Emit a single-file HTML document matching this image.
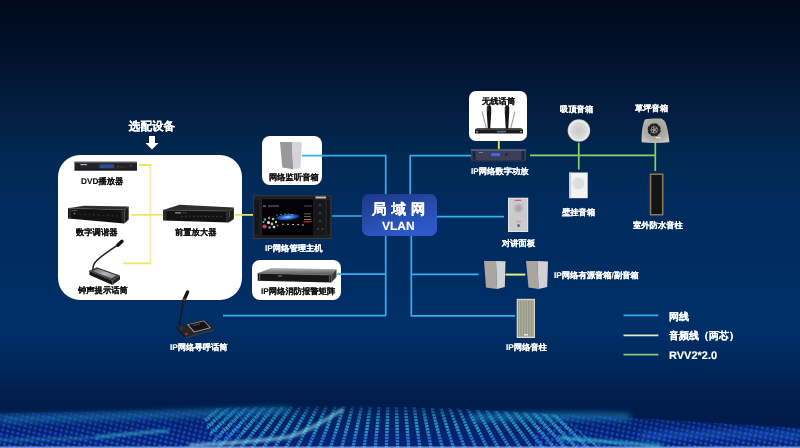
<!DOCTYPE html>
<html><head><meta charset="utf-8">
<style>
*{margin:0;padding:0;box-sizing:border-box}
html,body{width:800px;height:448px;overflow:hidden}
body{position:relative;font-family:"Liberation Sans",sans-serif;
background:linear-gradient(180deg,#000a1c 0px,#00112a 50px,#041b3d 100px,#012850 150px,#002b5c 200px,#002d62 270px,#012f68 330px,#002658 370px,#011d4c 400px,#011a48 448px);}
.abs{position:absolute}
.wbox{position:absolute;background:#fff}
.lbl{position:absolute;font-weight:bold;-webkit-text-stroke:0.12px currentColor;white-space:nowrap;font-size:8.3px;line-height:10px;text-rendering:geometricPrecision;color:#fff}
.dk{color:#111;-webkit-text-stroke-width:0.1px}
svg{position:absolute;left:0;top:0}
</style></head>
<body>
<!-- bottom particle wave -->
<svg class="abs" style="left:0;top:400px" width="800" height="48" viewBox="0 400 800 48">
 <defs>
  <pattern id="dotA" width="5.2" height="4.6" patternUnits="userSpaceOnUse" patternTransform="rotate(14)"><circle cx="2.6" cy="2.3" r="1.6" fill="#1f55e0"/></pattern>
  <pattern id="dotC" width="5.2" height="4.6" patternUnits="userSpaceOnUse" patternTransform="rotate(12)"><circle cx="2.6" cy="2.3" r="1.6" fill="#1f55e0"/></pattern>
  <linearGradient id="wg" x1="0" y1="400" x2="0" y2="448" gradientUnits="userSpaceOnUse"><stop offset="0.1" stop-color="#fff" stop-opacity="0"/><stop offset="0.35" stop-color="#fff" stop-opacity="0.45"/><stop offset="0.7" stop-color="#fff" stop-opacity="0.7"/><stop offset="1" stop-color="#fff" stop-opacity="0.9"/></linearGradient>
  <mask id="wm" maskUnits="userSpaceOnUse" x="0" y="400" width="800" height="48"><rect x="0" y="400" width="800" height="48" fill="url(#wg)"/></mask>
  <linearGradient id="baseG" x1="0" y1="400" x2="0" y2="448" gradientUnits="userSpaceOnUse"><stop offset="0.1" stop-color="#06257a" stop-opacity="0"/><stop offset="0.35" stop-color="#06257a" stop-opacity="0.55"/><stop offset="1" stop-color="#072880" stop-opacity="0.8"/></linearGradient>
  <linearGradient id="colGrad" x1="0" y1="404" x2="0" y2="448" gradientUnits="userSpaceOnUse"><stop offset="0" stop-color="#1a6ab0" stop-opacity="0.25"/><stop offset="0.25" stop-color="#2aa8c8" stop-opacity="0.65"/><stop offset="0.55" stop-color="#34b8d0" stop-opacity="0.8"/><stop offset="0.8" stop-color="#2a80d8" stop-opacity="0.8"/><stop offset="1" stop-color="#3a9ae0" stop-opacity="0.85"/></linearGradient>
  <filter id="bl05" x="-20%" y="-5%" width="140%" height="110%"><feGaussianBlur stdDeviation="0.7"/></filter>
  <clipPath id="midclip"><path d="M200 408C300 406 400 405 480 410C520 412 550 414 560 415L600 448H215Z"/></clipPath>
  <filter id="bl" x="-10%" y="-50%" width="120%" height="200%"><feGaussianBlur stdDeviation="1.6"/></filter>
  <filter id="bl2" x="-10%" y="-100%" width="120%" height="300%"><feGaussianBlur stdDeviation="3"/></filter>
 </defs>
 <path d="M0 413C80 412 200 409 300 406.5C400 405 480 410 560 414C650 418 720 424 800 428V448H0Z" fill="url(#baseG)"/>
 <g mask="url(#wm)">
  <path d="M0 413C80 412 200 409 290 406.5L215 448H0Z" fill="url(#dotA)"/>
  <path d="M535 413C650 418 720 424 800 428V448H535Z" fill="url(#dotC)"/>
 </g>
 <g clip-path="url(#midclip)"><g stroke="url(#colGrad)" stroke-width="3.4" stroke-dasharray="2.3 0.7" filter="url(#bl05)"><path d="M173.6 448L221.8 406"/><path d="M184.8 448L230.5 406"/><path d="M196.0 448L239.3 406"/><path d="M207.2 448L248.0 406"/><path d="M218.4 448L256.8 406"/><path d="M229.6 448L265.5 406"/><path d="M240.8 448L274.2 406"/><path d="M252.0 448L283.0 406"/><path d="M263.2 448L291.7 406"/><path d="M274.4 448L300.4 406"/><path d="M285.6 448L309.2 406"/><path d="M296.8 448L317.9 406"/><path d="M308.0 448L326.6 406"/><path d="M319.2 448L335.4 406"/><path d="M330.4 448L344.1 406"/><path d="M341.6 448L352.8 406"/><path d="M352.8 448L361.6 406"/><path d="M364.0 448L370.3 406"/><path d="M375.2 448L379.1 406"/><path d="M386.4 448L387.8 406"/><path d="M397.6 448L396.5 406"/><path d="M408.8 448L405.3 406"/><path d="M420.0 448L414.0 406"/><path d="M431.2 448L422.7 406"/><path d="M442.4 448L431.5 406"/><path d="M453.6 448L440.2 406"/><path d="M464.8 448L448.9 406"/><path d="M476.0 448L457.7 406"/><path d="M487.2 448L466.4 406"/><path d="M498.4 448L475.2 406"/><path d="M509.6 448L483.9 406"/><path d="M520.8 448L492.6 406"/><path d="M532.0 448L501.4 406"/><path d="M543.2 448L510.1 406"/><path d="M554.4 448L518.8 406"/><path d="M565.6 448L527.6 406"/><path d="M576.8 448L536.3 406"/><path d="M588.0 448L545.0 406"/><path d="M599.2 448L553.8 406"/></g></g>
 <g filter="url(#bl2)" fill="none" stroke="#2aa8d8" stroke-width="6">
  <path d="M0 419C60 418 120 416 180 414C230 412.5 260 411 290 410" opacity="0.5"/>
  <path d="M470 418C520 416 570 415 630 417" opacity="0.6"/>
  <path d="M640 436C700 434 750 433 800 436" stroke="#2a70e8" opacity="0.5"/>
 </g>
 <g filter="url(#bl)" fill="none" stroke-linecap="round">
  <path d="M95 437.5C120 435 145 432 168 431" stroke="#3cc8d8" stroke-width="2.5" opacity="0.75"/>
  <path d="M0 440C30 439.5 60 439 90 438" stroke="#30b0d0" stroke-width="2" opacity="0.55"/>
  <path d="M190 445.5C230 443 265 441 288 437C305 433 322 422 342 410" stroke="#8ee0e8" stroke-width="3" opacity="0.8"/>
  <path d="M560 438C590 440 620 443 660 446" stroke="#3cd0d8" stroke-width="3" opacity="0.8"/>
 </g>
 <rect x="0" y="446.5" width="800" height="1.5" fill="#8fb0e8" opacity="0.8"/>
</svg>

<!-- white boxes -->
<div class="wbox" style="left:58px;top:155px;width:184px;height:145px;border-radius:22px"></div>
<div class="wbox" style="left:262px;top:136px;width:60px;height:49px;border-radius:8px"></div>
<div class="wbox" style="left:252px;top:260px;width:89px;height:40px;border-radius:8px"></div>
<div class="wbox" style="left:469px;top:91px;width:58px;height:50px;border-radius:7px"></div>

<svg width="800" height="448" viewBox="0 0 800 448">
 <g stroke="#34aeee" stroke-width="1.7" fill="none">
  <path d="M302 155.6H385.7V315.7M331.5 216H362M337 274.1H385.7M223 315.7H385.7"/>
  <path d="M471 155.6H410.2V200M411.3 230V315.8H515M437 216.6H504M411.3 274.3H478.5"/>
  <path d="M623.5 315.4H658.4"/>
 </g>
 <path d="M505.5 274.6H525.3" stroke="#e8ee8c" stroke-width="2"/><path d="M150.4 165V263.4" stroke="#f4efb4" stroke-width="2.2" fill="none"/>
 <g stroke="#f2e45e" stroke-width="1.8" fill="none">
  <path d="M139 165H151.4M123.4 263.4H151.4M131.4 214.8H162.5M234.5 214.8H253M498.8 141V149.5"/>
 </g>
 <path d="M623.5 335.4H658.4" stroke="#dde9c0" stroke-width="1.6"/>
 <g stroke="#8ed068" stroke-width="1.7" fill="none">
  <path d="M530 155.3H655.3M578.75 142.8V169.4M655.3 142.8V171"/>
 </g>
 <path d="M623.5 354.7H658.4" stroke="#8cc880" stroke-width="1.8"/>
</svg>


<svg width="800" height="448" viewBox="0 0 800 448">
 <defs>
  <linearGradient id="rackTop" x1="0" y1="1" x2="0" y2="0"><stop offset="0" stop-color="#2b2b2b"/><stop offset="1" stop-color="#4a4a4a"/></linearGradient>
  <linearGradient id="amTop" x1="0" y1="1" x2="0" y2="0"><stop offset="0" stop-color="#505050"/><stop offset="1" stop-color="#b4b4b4"/></linearGradient>
  <linearGradient id="scr" x1="0" y1="0" x2="1" y2="0"><stop offset="0" stop-color="#000"/><stop offset="0.3" stop-color="#0a2a6a"/><stop offset="0.55" stop-color="#3a7ad0"/><stop offset="0.8" stop-color="#0a2050"/><stop offset="1" stop-color="#000"/></linearGradient>
  <linearGradient id="colG" x1="0" y1="0" x2="1" y2="0"><stop offset="0" stop-color="#c8c8b8"/><stop offset="0.15" stop-color="#9a9a84"/><stop offset="0.3" stop-color="#b4b4a0"/><stop offset="0.45" stop-color="#8e8e78"/><stop offset="0.6" stop-color="#b0b09c"/><stop offset="0.75" stop-color="#929280"/><stop offset="0.9" stop-color="#aaa898"/><stop offset="1" stop-color="#c8c8b8"/></linearGradient>
  <radialGradient id="ceil" cx="0.5" cy="0.5" r="0.5"><stop offset="0" stop-color="#c8c8c8"/><stop offset="0.75" stop-color="#dcdcdc"/><stop offset="0.85" stop-color="#f4f4f4"/><stop offset="1" stop-color="#bdbdbd"/></radialGradient>
  <radialGradient id="rock" cx="0.5" cy="0.45" r="0.6"><stop offset="0" stop-color="#9a9892"/><stop offset="0.7" stop-color="#afada6"/><stop offset="1" stop-color="#c8c6c0"/></radialGradient>
 <radialGradient id="galaxy" cx="0.45" cy="0.5" r="0.5"><stop offset="0" stop-color="#a8d4ff"/><stop offset="0.35" stop-color="#3a80e0"/><stop offset="0.75" stop-color="#123a90"/><stop offset="1" stop-color="#030305" stop-opacity="0"/></radialGradient>
 <linearGradient id="chimeScr" x1="0" y1="0" x2="1" y2="1"><stop offset="0" stop-color="#6a6a70"/><stop offset="0.5" stop-color="#b4b4bc"/><stop offset="1" stop-color="#7a7a82"/></linearGradient>
 </defs>
 <!-- DVD player -->
 <rect x="74.5" y="161.8" width="62.5" height="8.6" rx="0.6" fill="#232326"/>
 <rect x="74.5" y="161.8" width="62.5" height="1.3" fill="#5a5a5e"/>
 <rect x="74.5" y="169.6" width="62.5" height="0.8" fill="#111"/>
 <rect x="99.5" y="164.3" width="14.5" height="4" fill="#2d4a9a"/>
 <rect x="80.5" y="164" width="6.5" height="1.2" fill="#b0b0b0"/>
 <g fill="#666"><circle cx="118" cy="166.5" r="0.7"/><circle cx="121" cy="167" r="0.6"/><circle cx="124" cy="167" r="0.6"/><circle cx="131" cy="165.5" r="0.7"/></g>
 <!-- digital tuner -->
 <path d="M68 208.3L84 205.8L128.7 206.4L124.4 209.8Z" fill="#2e2e2e"/>
 <path d="M68 208.3L124.4 209.8L124.4 223.6L68 218.4Z" fill="#121212"/>
 <path d="M68 208.3L124.4 209.8" stroke="#555" stroke-width="0.6"/>
 <path d="M124.4 209.8L128.7 206.4L128.7 219.5L124.4 223.6Z" fill="#1e1e1e"/>
 <rect x="69" y="209" width="2.2" height="9" fill="#2a2a2a"/><rect x="121.5" y="210.5" width="2.2" height="11" fill="#2a2a2a"/>
 <circle cx="74.5" cy="213.5" r="0.9" fill="#777"/><rect x="71.5" y="210" width="6" height="0.8" fill="#666"/>
 <g fill="#3a3a3a"><circle cx="80.0" cy="214.50" r="0.7"/><circle cx="84.6" cy="214.67" r="0.7"/><circle cx="89.2" cy="214.84" r="0.7"/><circle cx="93.8" cy="215.01" r="0.7"/><circle cx="98.4" cy="215.18" r="0.7"/><circle cx="103.0" cy="215.35" r="0.7"/><circle cx="107.6" cy="215.52" r="0.7"/><circle cx="112.2" cy="215.69" r="0.7"/><circle cx="116.8" cy="215.86" r="0.7"/></g>
 <!-- preamp -->
 <path d="M163.1 210.1L179.5 204.8L233.9 207.5L229.8 211.1Z" fill="#2e2e2e"/>
 <path d="M163.1 210.1L229.8 211.1L228.7 222.6L163.1 220.5Z" fill="#131313"/>
 <path d="M163.1 210.1L229.8 211.1" stroke="#555" stroke-width="0.6"/>
 <path d="M229.8 211.1L233.9 207.5L233.9 219L228.7 222.6Z" fill="#1f1f1f"/>
 <rect x="164" y="211" width="2.6" height="9" fill="#2c2c2c"/><rect x="226" y="212" width="2.6" height="9.5" fill="#2c2c2c"/>
 <rect x="175" y="212.2" width="6" height="1.3" fill="#8a8a8a"/><rect x="182" y="212.6" width="5" height="0.6" fill="#555"/>
 <g fill="#444"><circle cx="182.0" cy="216.20" r="0.75"/><circle cx="185.9" cy="216.23" r="0.75"/><circle cx="189.8" cy="216.26" r="0.75"/><circle cx="193.7" cy="216.29" r="0.75"/><circle cx="197.6" cy="216.32" r="0.75"/><circle cx="201.5" cy="216.35" r="0.75"/><circle cx="205.4" cy="216.38" r="0.75"/><circle cx="209.3" cy="216.41" r="0.75"/><circle cx="213.2" cy="216.44" r="0.75"/><circle cx="217.1" cy="216.47" r="0.75"/><circle cx="221.0" cy="216.50" r="0.75"/></g>
 <!-- chime mic -->
 <path d="M119.5 243.8C110 250 99 257.5 95 262.5C93 265 92.8 268 92.8 271" stroke="#1e1e1e" stroke-width="1.5" fill="none"/>
 <path d="M117.8 245.2L122 241.2" stroke="#111" stroke-width="3.4" stroke-linecap="round"/>
 <path d="M89.2 270.8L96.8 267.3L120 275.5L112.4 280.7Z" fill="#3a3a3e"/>
 <path d="M89.2 270.8L112.4 280.7L112.4 285L89.5 275Z" fill="#161616"/>
 <path d="M112.4 280.7L120 275.5L120 279.5L112.4 285Z" fill="#242424"/>
 <path d="M92.5 271L97.5 268.8L116.5 275.6L111.5 278.6Z" fill="url(#chimeScr)"/>
 <!-- monitor speaker -->
 <path d="M280 142L291.9 142L293.3 169.2L282.3 167.5Z" fill="#999999"/>
 <path d="M291.9 142L301.8 142.2L300.5 167.9L293.3 169.2Z" fill="#d2d4d8"/>
 <!-- IP management host -->
 <rect x="253.25" y="195.25" width="78.25" height="43.75" fill="#202022"/>
 <rect x="253.75" y="195.75" width="77.25" height="42.75" fill="none" stroke="#3a3a3c" stroke-width="1"/>
 <rect x="262" y="199.3" width="51.2" height="36.1" fill="#030305"/>
 <rect x="263" y="205.5" width="3" height="1.2" fill="#888"/><rect x="268" y="205.5" width="11" height="1" fill="#777"/><rect x="304" y="205.5" width="8" height="1" fill="#555"/>
 <ellipse cx="289" cy="217" rx="14" ry="3.6" fill="url(#galaxy)" transform="rotate(-5 289 217)"/>
 <g fill="#ddd"><circle cx="277" cy="215" r="0.6"/><circle cx="281" cy="214.5" r="0.6"/><circle cx="285" cy="214" r="0.6"/><circle cx="289" cy="214" r="0.6"/><circle cx="292" cy="214.5" r="0.6"/></g>
 <g><circle cx="264.5" cy="226.5" r="2.1" fill="#d04060"/><circle cx="265" cy="219.5" r="1.3" fill="#40b0a0"/><circle cx="269" cy="218" r="1.2" fill="#e070a0"/><circle cx="273" cy="219" r="1.3" fill="#80d0c0"/><circle cx="268.5" cy="222.5" r="1.5" fill="#e8e8e8"/><circle cx="272" cy="224" r="1.4" fill="#a0d870"/><circle cx="276" cy="222" r="1.2" fill="#d0e070"/><circle cx="269.5" cy="227.5" r="1.2" fill="#9090e0"/><circle cx="274" cy="227" r="1.3" fill="#e0e0e0"/><circle cx="277.5" cy="225.5" r="1" fill="#c06080"/><circle cx="263.5" cy="222" r="1" fill="#60c0e0"/></g>
 <g fill="#bbb"><rect x="282" y="223.8" width="2" height="1"/><rect x="287" y="223.8" width="2" height="1"/><rect x="292" y="224" width="2" height="1"/><rect x="297" y="224.2" width="2" height="1"/><rect x="302" y="224.5" width="2" height="1"/></g>
 <rect x="304" y="213.5" width="7" height="0.8" fill="#777"/><rect x="304" y="216" width="7" height="0.8" fill="#777"/><rect x="304" y="219" width="7" height="0.8" fill="#aaa"/><rect x="303.5" y="221" width="8" height="1.3" fill="#c02020"/>
 <rect x="315.5" y="196.5" width="10.5" height="2" fill="#bdbdbd"/>
 <rect x="314" y="200" width="11" height="35" fill="#18181a"/>
 <g fill="#666"><circle cx="320" cy="205" r="0.8"/><circle cx="320" cy="213" r="0.8"/><circle cx="320" cy="221" r="0.8"/><circle cx="318" cy="229" r="0.8"/><circle cx="322.5" cy="229" r="0.8"/></g>
 <rect x="254.5" y="200" width="4.5" height="34" fill="#161618"/>
 <rect x="327" y="200" width="3" height="34" fill="#161618"/>
 <!-- alarm matrix -->
 <path d="M257.7 273.2L271.5 268L336.5 269.2L331.3 275Z" fill="url(#amTop)"/>
 <path d="M257.7 273.2L331.3 275L331.3 282.4L257.7 280.7Z" fill="#161616"/>
 <path d="M257.7 273.2L331.3 275" stroke="#7a7a7a" stroke-width="0.7"/>
 <path d="M331.3 275L336.5 269.2L336.5 277L331.3 282.4Z" fill="#3a3a3a"/>
 <rect x="259" y="274" width="1.2" height="6" fill="#555"/><rect x="329" y="275.5" width="1.2" height="6" fill="#555"/>
 <rect x="278" y="275.5" width="4" height="1" fill="#888"/>
 <!-- paging mic -->
 <path d="M183.6 299L179.3 326" stroke="#161616" stroke-width="1.4"/>
 <path d="M187.6 292L184.2 299.5" stroke="#141414" stroke-width="3.4" stroke-linecap="round"/>
 <path d="M185 298.3L183.9 300.6" stroke="#8a2a2a" stroke-width="3"/>
 <path d="M176 326.6L204.25 319.75L213.6 329L185.5 337.25Z" fill="#262626"/>
 <path d="M176 326.6L185.5 337.25L185.7 338.6L176.2 328Z" fill="#111"/>
 <path d="M185.5 337.25L213.6 329L213.6 330.4L185.7 338.6Z" fill="#3a3a3a"/>
 <path d="M187 324.5L204 320.5L211 328L194 332.5Z" fill="#a8a8a8"/>
 <path d="M188.5 324.8L203.8 321.3L209.5 327.6L194.5 331.5Z" fill="#141418"/>
 <path d="M193 325.5L200 323.8" stroke="#777" stroke-width="0.6"/>
 <circle cx="186.3" cy="334" r="1.3" fill="#b83030"/>
 <circle cx="181" cy="328" r="1.6" fill="#333"/>
 <!-- wireless mic -->
 <path d="M482.1 111.4L486.4 128.6M515 111.4L510.7 128.6" stroke="#8a8a8a" stroke-width="0.9"/>
 <path d="M486.8 107.5Q486.8 105 489 105Q491.2 105 491.2 107.5V112.5L490.2 128.8H487.8L486.8 112.5Z" fill="#161616"/>
 <path d="M504.8 107.5Q504.8 105 507 105Q509.2 105 509.2 107.5V112.5L508.2 128.8H505.8L504.8 112.5Z" fill="#161616"/>
 <rect x="487.3" y="106" width="1" height="5" fill="#444"/><rect x="505.3" y="106" width="1" height="5" fill="#444"/>
 <path d="M475 129.3L477 128.2H521L523 129.3V133.6H475Z" fill="#1a1a1a"/>
 <rect x="475" y="129.3" width="48" height="0.8" fill="#555"/>
 <circle cx="477" cy="131.8" r="0.8" fill="#ddd"/><circle cx="521" cy="131.8" r="0.8" fill="#ddd"/>
 <rect x="497" y="130.8" width="9" height="1.6" fill="#4a6ab0"/>
 <!-- IP amplifier -->
 <rect x="471" y="149.3" width="55" height="12.1" fill="#3b4058"/>
 <rect x="471" y="149.3" width="55" height="1.6" fill="#5a6080"/>
 <rect x="471" y="160.2" width="55" height="1.2" fill="#2a2e40"/>
 <rect x="472.5" y="151" width="3.2" height="9" fill="#22263a"/>
 <rect x="521.3" y="151" width="3.2" height="9" fill="#22263a"/>
 <rect x="491.4" y="153.1" width="8.6" height="3" fill="#3a70e0"/>
 <circle cx="506.4" cy="154.6" r="1.4" fill="#22263a"/>
 <rect x="479" y="152" width="4" height="0.8" fill="#8a90a8"/>
 <!-- ceiling speaker -->
 <circle cx="578.9" cy="130.5" r="11.3" fill="url(#ceil)"/>
 <!-- wall speaker -->
 <rect x="569.2" y="172.5" width="18.5" height="25.7" fill="#f2f2f2"/>
 <rect x="569.2" y="172.5" width="2" height="25.7" fill="#cfcfcf"/>
 <circle cx="578.5" cy="183.5" r="6" fill="#dedede"/>
 <!-- rock speaker -->
 <path d="M641.7 142.3C641.5 136 642 129 643 125.4C643.8 122 644.5 120 645.5 119.3C650 118.5 656 118.3 661 118.6C663 119.5 664.8 121 665.8 123.2C667.5 128 668.8 135 669.4 142.3C660 143.2 650 143.2 641.7 142.3Z" fill="url(#rock)"/>
 <g fill="#232323"><rect x="656.80" y="130.01" width="4.2" height="3" rx="1" transform="rotate(110 658.90 131.51)"/><rect x="654.21" y="132.83" width="4.2" height="3" rx="1" transform="rotate(155 656.31 134.33)"/><rect x="650.39" y="133.00" width="4.2" height="3" rx="1" transform="rotate(200 652.49 134.50)"/><rect x="647.57" y="130.41" width="4.2" height="3" rx="1" transform="rotate(245 649.67 131.91)"/><rect x="647.40" y="126.59" width="4.2" height="3" rx="1" transform="rotate(290 649.50 128.09)"/><rect x="649.99" y="123.77" width="4.2" height="3" rx="1" transform="rotate(335 652.09 125.27)"/><rect x="653.81" y="123.60" width="4.2" height="3" rx="1" transform="rotate(380 655.91 125.10)"/><rect x="656.63" y="126.19" width="4.2" height="3" rx="1" transform="rotate(425 658.73 127.69)"/><circle cx="656.40" cy="129.80" r="0.9"/><circle cx="654.88" cy="131.89" r="0.9"/><circle cx="652.42" cy="131.09" r="0.9"/><circle cx="652.42" cy="128.51" r="0.9"/><circle cx="654.88" cy="127.71" r="0.9"/></g>
 <rect x="656" y="137.2" width="5" height="1" fill="#eee"/>
 <!-- outdoor column -->
 <rect x="649.7" y="173.5" width="13.8" height="42" fill="#8a7858"/>
 <rect x="651.3" y="175" width="10.6" height="39" fill="#141414"/>
 <!-- intercom -->
 <rect x="508" y="197.7" width="20.2" height="34.3" fill="#e6e6e8"/>
 <rect x="509" y="198.7" width="18.2" height="32.3" fill="#cbcbcf"/>
 <circle cx="518.5" cy="208.2" r="4.6" fill="#b8b8bc"/>
 <circle cx="518.5" cy="208.2" r="2.6" fill="#a8a8ac"/>
 <circle cx="518.5" cy="225.4" r="1.5" fill="#6a6a6a"/>
 <rect x="514.5" y="199.8" width="7" height="1" fill="#d05050"/>
 <rect x="516" y="221.5" width="5" height="0.6" fill="#c07070"/>
 <!-- active speakers -->
 <path d="M484 261L496 261L497 289L486 287.5Z" fill="#aaa69f"/>
 <path d="M496 261L505.5 261.2L504.8 287L497 289Z" fill="#d2d2d6"/>
 <path d="M526 261L537.5 261L538.5 289L528.5 287.5Z" fill="#aaa69f"/>
 <path d="M537.5 261L548 261.5L547.2 287L538.5 289Z" fill="#d2d2d6"/>
 <!-- IP column -->
 <rect x="516.7" y="298.8" width="18.3" height="39.2" fill="#dcdcd0"/>
 <rect x="517.7" y="299.8" width="16.3" height="37.2" fill="#b4b4a2"/>
 <rect x="518.3" y="300.5" width="0.7" height="35.5" fill="#8e8e7c"/><rect x="519.9" y="300.5" width="0.7" height="35.5" fill="#8e8e7c"/><rect x="521.5" y="300.5" width="0.7" height="35.5" fill="#8e8e7c"/><rect x="523.1" y="300.5" width="0.7" height="35.5" fill="#8e8e7c"/><rect x="524.7" y="300.5" width="0.7" height="35.5" fill="#8e8e7c"/><rect x="526.3" y="300.5" width="0.7" height="35.5" fill="#8e8e7c"/><rect x="527.9" y="300.5" width="0.7" height="35.5" fill="#8e8e7c"/><rect x="529.5" y="300.5" width="0.7" height="35.5" fill="#8e8e7c"/><rect x="531.1" y="300.5" width="0.7" height="35.5" fill="#8e8e7c"/><rect x="532.7" y="300.5" width="0.7" height="35.5" fill="#8e8e7c"/>
 <rect x="524" y="334" width="4" height="1.5" fill="#e8e8e0"/>
</svg>

<!-- LAN box -->
<div class="abs" style="left:361.7px;top:194.4px;width:75px;height:41.8px;border-radius:7px;background:linear-gradient(165deg,#1d388c 0%,#24479f 35%,#2b55c0 70%,#2e5cd4 100%)"></div>
<div class="lbl" style="left:372px;top:200.5px;font-size:14.6px;line-height:18px;letter-spacing:4.8px">局域网</div>
<div class="lbl" style="left:382px;top:219px;font-size:12px;line-height:14px;letter-spacing:0">VLAN</div>

<!-- labels -->
<svg width="800" height="448"><path d="M149 136h6v7h3.5L152 149.5L145.5 143H149Z" fill="#fff"/></svg>
<div class="lbl" style="left:128.8px;top:120px;font-size:11.6px;line-height:13px;letter-spacing:0">选配设备</div>
<div class="lbl dk" style="left:81px;top:176px">DVD播放器</div>
<div class="lbl dk" style="left:76px;top:227px">数字调谐器</div>
<div class="lbl dk" style="left:78px;top:285px">钟声提示话筒</div>
<div class="lbl dk" style="left:175px;top:227px">前置放大器</div>
<div class="lbl dk" style="left:269px;top:172px">网络监听音箱</div>
<div class="lbl" style="left:265px;top:243px">IP网络管理主机</div>
<div class="lbl dk" style="left:261px;top:286px">IP网络消防报警矩阵</div>
<div class="lbl" style="left:170px;top:342px">IP网络寻呼话筒</div>
<div class="lbl dk" style="left:482px;top:96px">无线话筒</div>
<div class="lbl" style="left:471px;top:166px">IP网络数字功放</div>
<div class="lbl" style="left:560px;top:104px">吸顶音箱</div>
<div class="lbl" style="left:635px;top:103px">草坪音箱</div>
<div class="lbl" style="left:562px;top:207px">壁挂音箱</div>
<div class="lbl" style="left:633px;top:220px">室外防水音柱</div>
<div class="lbl" style="left:502px;top:238px">对讲面板</div>
<div class="lbl" style="left:554px;top:270px">IP网络有源音箱/副音箱</div>
<div class="lbl" style="left:506px;top:342px">IP网络音柱</div>
<div class="lbl" style="left:669px;top:312px;font-size:10px;line-height:12px;letter-spacing:0">网线</div>
<div class="lbl" style="left:669px;top:331px;font-size:10px;line-height:12px;letter-spacing:0">音频线（两芯）</div>
<div class="lbl" style="left:669px;top:350px;font-size:11px;line-height:12px;letter-spacing:0">RVV2*2.0</div>
</body></html>
